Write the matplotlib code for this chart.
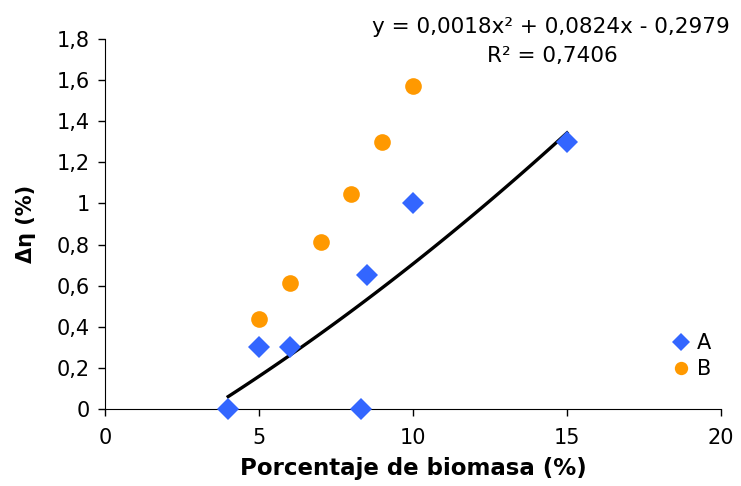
import numpy as np
import matplotlib
matplotlib.use("Agg")
import matplotlib.pyplot as plt

# serie A (rombos azules)
a_x = [4, 5, 6, 8.3, 8.5, 10, 15]
a_y = [0, 0.3, 0.3, 0, 0.65, 1.0, 1.3]
# serie B (circulos naranjas)
b_x = [5, 6, 7, 8, 9, 10]
b_y = [0.44, 0.615, 0.81, 1.045, 1.3, 1.57]
# linea de tendencia (polinomica) mostrada en el grafico
coef = [0.0018, 0.0824, -0.2979]
trend_range = [4, 15]

x_ticks = [0, 5, 10, 15, 20]
y_ticks = [0, 0.2, 0.4, 0.6, 0.8, 1.0, 1.2, 1.4, 1.6, 1.8]
y_labels = ["0", "0,2", "0,4", "0,6", "0,8", "1", "1,2", "1,4", "1,6", "1,8"]
x_labels = ["0", "5", "10", "15", "20"]

plt.rcParams['font.family'] = ['DejaVu Sans']

fig = plt.figure(figsize=(7.41, 4.86), dpi=100)
ax = fig.add_axes([0.1417, 0.1584, 0.8313, 0.7614])

xt = np.linspace(trend_range[0], trend_range[1], 100)
ax.plot(xt, np.polyval(coef, xt), color='black', lw=2.4, zorder=3)

ax.plot(a_x, a_y, linestyle='none', marker='D', ms=11, color='#3366FF',
        markeredgewidth=0, label='A', zorder=4, clip_on=False)
ax.plot(b_x, b_y, linestyle='none', marker='o', ms=12, color='#FF9900',
        markeredgewidth=0, label='B', zorder=4, clip_on=False)

ax.set_xlim(0, 20)
ax.set_ylim(0, 1.8)
ax.set_xticks(x_ticks)
ax.set_xticklabels(x_labels)
ax.set_yticks(y_ticks)
ax.set_yticklabels(y_labels)
ax.tick_params(axis='both', labelsize=15, direction='out', length=5,
               width=1, color='black')
ax.tick_params(axis='x', pad=9)
ax.tick_params(axis='y', pad=6)
ax.spines['top'].set_visible(False)
ax.spines['right'].set_visible(False)

ax.set_xlabel("Porcentaje de biomasa (%)", fontsize=16.5, fontweight='bold',
              labelpad=6)
ax.set_ylabel("Δη (%)", fontsize=15, fontweight='bold', labelpad=15)

leg = ax.legend(loc='lower right', bbox_to_anchor=(1.015, 0.03), frameon=False,
                fontsize=15, handletextpad=0.3, labelspacing=0.3,
                handlelength=1, markerscale=0.8)

fig.text(0.744, 0.945, "y = 0,0018x² + 0,0824x - 0,2979", ha='center',
         va='center', fontsize=15.5)
fig.text(0.746, 0.885, "R² = 0,7406", ha='center', va='center', fontsize=15.5)

plt.savefig('out.png', dpi=100)
